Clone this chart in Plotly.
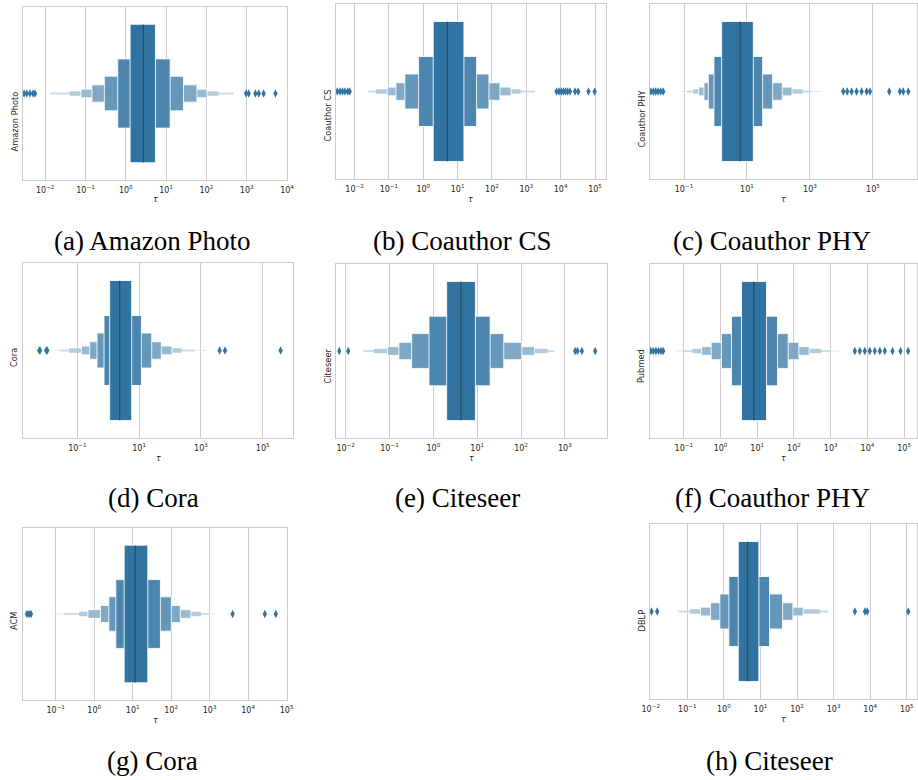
import plotly.graph_objects as go

W, H = 918, 780

# ---------------- data ----------------
dataset_names = ["Amazon Photo", "Coauthor CS", "Coauthor PHY", "Cora",
                 "Citeseer", "Pubmed", "ACM", "DBLP"]
captions = ["(a) Amazon Photo", "(b) Coauthor CS", "(c) Coauthor PHY", "(d) Cora",
            "(e) Citeseer", "(f) Coauthor PHY", "(g) Cora", "(h) Citeseer"]

# letter values: index 0 = quartiles, then eighths, sixteenths, ...
amazon_median = 2.74
amazon_lower = [1.28, 0.632, 0.294, 0.145, 0.0773, 0.0411, 0.0132]
amazon_upper = [5.45, 12.6, 27.1, 58.3, 104, 199, 475]
amazon_outliers = [0.0030, 0.0035, 0.0042, 0.0050, 0.0056,
                   966, 1122, 1644, 1995, 2630, 5176]

cs_median = 5.0
cs_lower = [1.95, 0.731, 0.292, 0.160, 0.0893, 0.0418, 0.025]
cs_upper = [15.3, 35.7, 81.8, 171, 357, 684, 1786]
cs_outliers = [0.00316, 0.0038, 0.00447, 0.00525, 0.0063, 0.00724,
               7586, 8913, 10471, 12023, 13804, 15849, 18621,
               26303, 32359, 64565, 97724]

phy_median = 6.14
phy_lower = [1.57, 0.895, 0.592, 0.431, 0.292, 0.198, 0.128, 0.079]
phy_upper = [15.9, 31.4, 65.3, 132, 269, 585, 1122, 2344]
phy_outliers = [0.0089, 0.0107, 0.0126, 0.0151, 0.0182, 0.0219,
                11429, 15311, 21038, 30269, 43652, 63096, 80353,
                330370, 719449, 918333, 1324342]

cora_median = 2.34
cora_lower = [1.11, 0.729, 0.433, 0.251, 0.135, 0.0537, 0.0268, 0.0186]
cora_upper = [5.73, 11.8, 25.5, 52.2, 116, 238, 627, 1496]
cora_outliers = [0.0058, 0.0062, 0.0098, 0.0106, 4036, 6012, 380000]

citeseer_median = 4.28
citeseer_lower = [2.01, 0.796, 0.320, 0.164, 0.0906, 0.0442, 0.0252]
citeseer_upper = [9.10, 19.7, 40.4, 104, 202, 401, 569]
citeseer_outliers = [0.00714, 0.01146, 1714, 1940, 2437, 4909]

pubmed_median = 8.07
pubmed_lower = [3.73, 1.99, 1.06, 0.557, 0.304, 0.173, 0.0925, 0.0571]
pubmed_upper = [17.9, 35.6, 69.5, 136, 259, 538, 1052, 1774]
pubmed_outliers = [0.0126, 0.0148, 0.0174, 0.0204, 0.0240, 0.0275,
                   4539, 6209, 8492, 11614, 15885, 21777, 29785,
                   48084, 79433, 128530]

acm_median = 11.6
acm_lower = [6.0, 3.65, 2.40, 1.46, 0.685, 0.408, 0.167, 0.0975]
acm_upper = [24.7, 52.5, 101, 173, 327, 594, 1019, 1372]
acm_outliers = [0.0179, 0.0204, 0.0228, 3945, 27164, 52360]

dblp_median = 4.44
dblp_lower = [2.47, 1.37, 0.778, 0.432, 0.230, 0.117, 0.0564]
dblp_upper = [9.06, 17.7, 40.2, 77.1, 148, 422, 713]
dblp_outliers = [0.0105, 0.0150, 3823, 7178, 8318, 109900]

tick_exponents = [
    [-2, -1, 0, 1, 2, 3, 4],
    [-2, -1, 0, 1, 2, 3, 4, 5],
    [-1, 1, 3, 5],
    [-1, 1, 3, 5],
    [-2, -1, 0, 1, 2, 3],
    [-1, 0, 1, 2, 3, 4, 5],
    [-1, 0, 1, 2, 3, 4, 5],
    [-2, -1, 0, 1, 2, 3, 4, 5],
]

medians = [amazon_median, cs_median, phy_median, cora_median,
           citeseer_median, pubmed_median, acm_median, dblp_median]
lowers = [amazon_lower, cs_lower, phy_lower, cora_lower,
          citeseer_lower, pubmed_lower, acm_lower, dblp_lower]
uppers = [amazon_upper, cs_upper, phy_upper, cora_upper,
          citeseer_upper, pubmed_upper, acm_upper, dblp_upper]
outliers = [amazon_outliers, cs_outliers, phy_outliers, cora_outliers,
            citeseer_outliers, pubmed_outliers, acm_outliers, dblp_outliers]

# ---------------- layout geometry (pixels) ----------------
# left, right, top, bottom of each plot area
boxes_px = [
    (23, 287, 7, 180), (336, 606, 4, 179), (650, 917, 4, 179),
    (23, 293, 263, 438), (336, 607, 264, 438), (650, 917, 264, 438),
    (23, 287, 528, 700), (650, 917, 524, 699),
]
xranges = [(-2.55, 4.0), (-2.54, 5.32), (-2.08, 6.40), (-2.76, 5.98),
           (-2.22, 3.96), (-1.92, 5.35), (-1.85, 5.01), (-2.02, 5.28)]
caption_pos = [(152, 241), (463, 241), (772, 241), (153, 498),
               (457, 498), (772, 498), (152, 761), (769, 761)]

BASE = (50, 116, 161)
EDGE = "rgba(255,255,255,0.85)"
GRID = "#cccccc"
TXT = "#262626"


def shade(t):
    r, g, b = [int(round(c + t * (255 - c))) for c in BASE]
    return f"rgb({r},{g},{b})"


def sup(e):
    s = str(abs(e))
    return "10<sup>" + ("\u2212" if e < 0 else "") + s + "</sup>"


fig = go.Figure()
annotations = []
layout = {}

for i in range(8):
    sfx = "" if i == 0 else str(i + 1)
    xa, ya = "x" + sfx, "y" + sfx
    l, r, t, b = boxes_px[i]
    plot_h = b - t
    lo_list, hi_list = lowers[i], uppers[i]
    n = len(lo_list)
    for k in reversed(range(n)):
        hgt = 0.8 / (2 ** k)
        lo, hi = lo_list[k], hi_list[k]
        lw = 1 if hgt * plot_h >= 6 else 0
        fig.add_trace(go.Scatter(
            x=[lo, hi, hi, lo, lo],
            y=[-hgt / 2, -hgt / 2, hgt / 2, hgt / 2, -hgt / 2],
            mode="lines", fill="toself", fillcolor=shade(min(0.85, k * 0.125)),
            line=dict(color=EDGE, width=lw),
            xaxis=xa, yaxis=ya, hoverinfo="skip", showlegend=False))
    fig.add_trace(go.Scatter(
        x=[medians[i], medians[i]], y=[-0.4, 0.4], mode="lines",
        line=dict(color="rgba(38,38,38,0.5)", width=1.3),
        xaxis=xa, yaxis=ya, hoverinfo="skip", showlegend=False))
    fig.add_trace(go.Scatter(
        x=outliers[i], y=[0] * len(outliers[i]), mode="markers",
        marker=dict(symbol="diamond-tall", size=6, color="rgb(50,116,161)",
                    line=dict(width=0)),
        xaxis=xa, yaxis=ya, hoverinfo="skip", showlegend=False))

    exps = tick_exponents[i]
    layout["xaxis" + sfx] = dict(
        type="log", range=list(xranges[i]), domain=[l / W, r / W], anchor=ya,
        tickmode="array", tickvals=[10.0 ** e for e in exps],
        ticktext=[sup(e) for e in exps], automargin=False,
        ticklabelstandoff=2,
        showgrid=True, gridcolor=GRID, gridwidth=1,
        showline=True, linecolor=GRID, linewidth=1, mirror=True,
        ticks="", zeroline=False, fixedrange=True,
        tickfont=dict(family="DejaVu Sans", size=8, color=TXT))
    layout["yaxis" + sfx] = dict(
        range=[-0.5, 0.5], domain=[1 - b / H, 1 - t / H], anchor=xa,
        showgrid=False, showticklabels=False, zeroline=False, ticks="",
        showline=True, linecolor=GRID, linewidth=1, mirror=True,
        fixedrange=True, automargin=False)

    # y label (dataset name)
    annotations.append(dict(
        text=dataset_names[i], xref="paper", yref="paper",
        x=(l - 9) / W, y=1 - ((t + b) / 2 - 4) / H,
        xanchor="center", yanchor="top", textangle=-90, showarrow=False,
        font=dict(family="DejaVu Sans", size=8.3, color=TXT)))
    # x label tau
    annotations.append(dict(
        text="<i>\u03c4</i>", xref="paper", yref="paper",
        x=(l + r) / 2 / W, y=1 - (b + 20) / H,
        xanchor="center", yanchor="middle", showarrow=False,
        font=dict(family="DejaVu Sans", size=8, color=TXT)))
    # caption
    cx, cy = caption_pos[i]
    annotations.append(dict(
        text=captions[i], xref="paper", yref="paper",
        x=cx / W, y=1 - cy / H, xanchor="center", yanchor="middle",
        showarrow=False,
        font=dict(family="Liberation Serif", size=27, color="black")))

fig.update_layout(
    width=W, height=H, margin=dict(l=0, r=0, t=0, b=0),
    paper_bgcolor="white", plot_bgcolor="white", showlegend=False,
    annotations=annotations, **layout)

fig.write_html("out.html")
